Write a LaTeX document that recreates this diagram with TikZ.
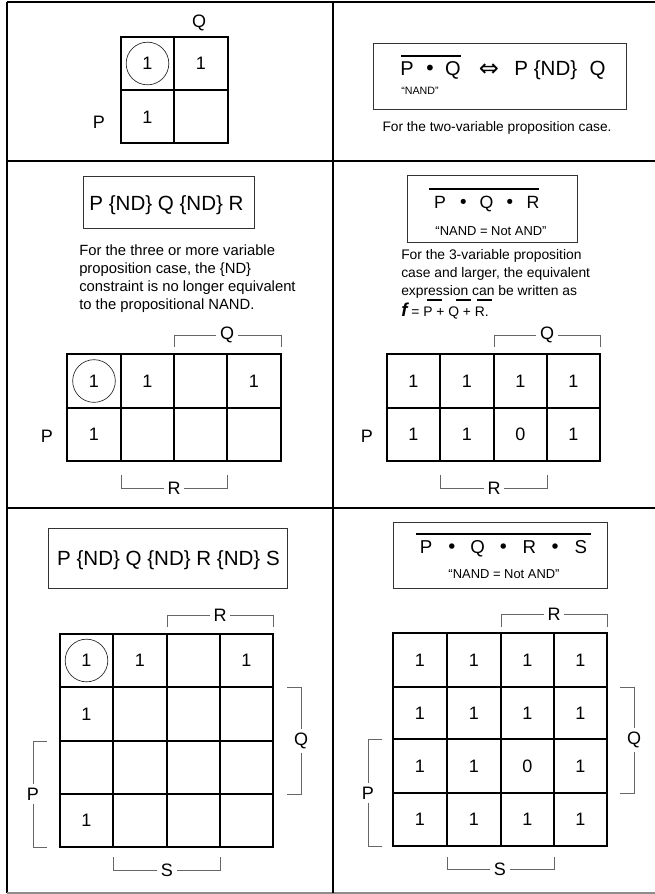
\documentclass[tikz,border=0pt]{standalone}
\usepackage{fontspec}
\setmainfont{Liberation Sans}
\newfontfamily\symfont{DejaVu Sans}
\newcommand\kfont{\fontsize{13.5}{16}\selectfont}
\newcommand\eqfont{\fontsize{15.4}{18}\selectfont}
\newcommand\bx[2]{\makebox[#1][c]{#2}}
\newcommand\bul{{\symfont •}}
\begin{document}
\begin{tikzpicture}[x=0.75pt,y=-0.75pt,
  frame/.style={line width=1.1pt, black},
  kgrid/.style={line width=1pt, black},
  brk/.style={line width=0.6pt, black!60},
  boxst/.style={draw=black!80, line width=0.6pt, inner sep=0pt},
  num/.style={font=\kfont, inner sep=0pt},
  lab/.style={font=\kfont, inner sep=2.5pt},
  ring/.style={circle, draw=black!85, line width=0.5pt, minimum size=32pt, inner sep=0pt, font=\kfont},
  bar/.style={line width=1.5pt},
  eq/.style={font=\eqfont, inner sep=0pt},
  txt/.style={inner sep=0pt}
]
\useasboundingbox (0,0) rectangle (655,894);

% ---- frame ----
\draw[frame] (7,2) -- (655,2);
\draw[line width=1.4pt] (7,2) -- (7,893);
\draw[line width=0.8pt, black!45] (7,893) -- (655,893);
\draw[frame] (333,2) -- (333,893);
\draw[frame] (7,161) -- (655,161);
\draw[frame] (7,508) -- (655,508);

% ---- top-left 2x2 map ----
\draw[kgrid] (121,37) rectangle (228,143);
\draw[kgrid] (174,37) -- (174,143);
\draw[kgrid] (121,90) -- (228,90);
\node[ring] (a11) at (147.5,63.5) {1};
\node[num] (a12) at (201,63.5) {1};
\node[num] (a21) at (147.5,117) {1};
\node[lab] (aq) at (199,23) {Q};
\node[lab] (ap) at (99,122) {P};

% ---- top-right ----
\node[boxst, minimum width=189.75pt, minimum height=49.5pt] (tb) at (499.5,76) {};
\node[txt, font=\fontsize{15}{18}\selectfont] (pq) at (430,70) {\bx{17.25pt}{P}\bx{17.25pt}{\bul}\bx{17.25pt}{Q}};
\draw[bar] (401,56) -- (461,56);
\node[txt, font=\symfont\fontsize{18}{20}\selectfont] (iff) at (489,70) {⇔};
\node[eq] (pndq) at (560,70) {P \{ND\}\hspace{5pt} Q};
\node[txt, font=\fontsize{8}{10}\selectfont] (nand1) at (420,91) {“NAND”};
\node[txt, font=\fontsize{10.3}{12}\selectfont] (two) at (497,128) {For the two-variable proposition case.};

% ---- middle-left ----
\node[boxst, minimum width=128.25pt, minimum height=39pt] (mlb) at (168.5,202) {};
\node[eq] (mleq) at (166.5,205) {P \{ND\} Q \{ND\} R};
\node[txt, anchor=north west, align=left, font=\fontsize{11.1}{13.7}\selectfont] (mltxt) at (79,244)
  {For the three or more variable\\proposition case, the \{ND\}\\constraint is no longer equivalent\\to the propositional NAND.};

\draw[kgrid] (67,354) rectangle (281,461);
\draw[kgrid] (121,354) -- (121,461);
\draw[kgrid] (174,354) -- (174,461);
\draw[kgrid] (227,354) -- (227,461);
\draw[kgrid] (67,408) -- (281,408);
\node[ring] (b11) at (94,381) {1};
\node[num] (b12) at (147.5,381) {1};
\node[num] (b14) at (254,381) {1};
\node[num] (b21) at (94,434.5) {1};
\node[lab] (bq) at (227,335) {Q};
\draw[brk] (174,347) |- (bq.west);
\draw[brk] (281,347) |- (bq.east);
\node[lab] (bp) at (47,436) {P};
\node[lab] (br) at (174,488) {R};
\draw[brk] (121,475) |- (br.west);
\draw[brk] (227,475) |- (br.east);

% ---- middle-right ----
\node[boxst, minimum width=127.5pt, minimum height=50.25pt] (mrb) at (492,208.5) {};
\node[txt, font=\fontsize{13.3}{16}\selectfont] (pqr) at (486.5,204) {\bx{17.44pt}{P}\bx{17.44pt}{\bul}\bx{17.44pt}{Q}\bx{17.44pt}{\bul}\bx{17.44pt}{R}};
\draw[bar] (429,189) -- (539,189);
\node[txt, font=\fontsize{9.7}{12}\selectfont] (nand2) at (491,231) {“NAND = Not AND”};
\node[txt, anchor=north west, align=left, font=\fontsize{10.4}{13.7}\selectfont] (mrtxt) at (401,249)
  {For the 3-variable proposition\\case and larger, the equivalent\\expression can be written as};
\node[txt, anchor=base west] (fline) at (401,316)
  {{\fontsize{14}{16}\selectfont\bfseries\itshape f}{\fontsize{10.4}{12}\selectfont\ = P + Q + R.}};
\draw[bar] (427,300) -- (442,300);
\draw[bar] (456,300) -- (471,300);
\draw[bar] (477,300) -- (492,300);

\draw[kgrid] (387,354) rectangle (600,461);
\draw[kgrid] (440,354) -- (440,461);
\draw[kgrid] (494,354) -- (494,461);
\draw[kgrid] (547,354) -- (547,461);
\draw[kgrid] (387,408) -- (600,408);
\node[num] (c11) at (413.5,381) {1};
\node[num] (c12) at (467,381) {1};
\node[num] (c13) at (520.5,381) {1};
\node[num] (c14) at (573.5,381) {1};
\node[num] (c21) at (413.5,434.5) {1};
\node[num] (c22) at (467,434.5) {1};
\node[num] (c23) at (520.5,434.5) {0};
\node[num] (c24) at (573.5,434.5) {1};
\node[lab] (cq) at (547,335) {Q};
\draw[brk] (494,347) |- (cq.west);
\draw[brk] (600,347) |- (cq.east);
\node[lab] (cp) at (367,436) {P};
\node[lab] (cr) at (494,488) {R};
\draw[brk] (440,475) |- (cr.west);
\draw[brk] (547,475) |- (cr.east);

% ---- bottom-left ----
\node[boxst, minimum width=179.25pt, minimum height=45pt] (blb) at (167.5,558) {};
\node[eq] (bleq) at (168.5,560) {P \{ND\} Q \{ND\} R \{ND\} S};

\draw[kgrid] (60,634) rectangle (273,847);
\draw[kgrid] (113,634) -- (113,847);
\draw[kgrid] (167,634) -- (167,847);
\draw[kgrid] (220,634) -- (220,847);
\draw[kgrid] (60,687) -- (273,687);
\draw[kgrid] (60,741) -- (273,741);
\draw[kgrid] (60,794) -- (273,794);
\node[ring] (d11) at (86.5,660.5) {1};
\node[num] (d12) at (140,660.5) {1};
\node[num] (d14) at (246.5,660.5) {1};
\node[num] (d21) at (86.5,714) {1};
\node[num] (d41) at (86.5,820.5) {1};
\node[lab] (dr) at (220,615) {R};
\draw[brk] (167,627) |- (dr.west);
\draw[brk] (273,627) |- (dr.east);
\node[lab] (dq) at (301,741) {Q};
\draw[brk] (287,687) -| (dq.north);
\draw[brk] (287,794) -| (dq.south);
\node[lab] (dp) at (33,794) {P};
\draw[brk] (47,741) -| (dp.north);
\draw[brk] (47,847) -| (dp.south);
\node[lab] (ds) at (167,870) {S};
\draw[brk] (113,857) |- (ds.west);
\draw[brk] (220,857) |- (ds.east);

% ---- bottom-right ----
\node[boxst, minimum width=160.5pt, minimum height=49.5pt] (brb) at (500,555) {};
\node[txt, font=\fontsize{14}{16}\selectfont] (pqrs) at (503.5,549) {\bx{19.35pt}{P}\bx{19.35pt}{\bul}\bx{19.35pt}{Q}\bx{19.35pt}{\bul}\bx{19.35pt}{R}\bx{19.35pt}{\bul}\bx{19.35pt}{S}};
\draw[bar] (416,534) -- (591,534);
\node[txt, font=\fontsize{9.7}{12}\selectfont] (nand3) at (504,574) {“NAND = Not AND”};

\draw[kgrid] (393,633) rectangle (607,846);
\draw[kgrid] (447,633) -- (447,846);
\draw[kgrid] (501,633) -- (501,846);
\draw[kgrid] (554,633) -- (554,846);
\draw[kgrid] (393,687) -- (607,687);
\draw[kgrid] (393,739) -- (607,739);
\draw[kgrid] (393,793) -- (607,793);
\foreach \r/\yy in {1/660,2/713,3/766,4/819.5}{
  \foreach \c/\xx in {1/420,2/474,3/527.5,4/580.5}{
    \pgfmathtruncatemacro\isz{(\r==3 && \c==3) ? 0 : 1}
    \node[num] (e\r\c) at (\xx,\yy) {\isz};
  }
}
\node[lab] (er) at (554,614) {R};
\draw[brk] (501,627) |- (er.west);
\draw[brk] (607,627) |- (er.east);
\node[lab] (eq4) at (634,740) {Q};
\draw[brk] (620,687) -| (eq4.north);
\draw[brk] (620,793) -| (eq4.south);
\node[lab] (ep) at (368,793) {P};
\draw[brk] (382,739) -| (ep.north);
\draw[brk] (382,846) -| (ep.south);
\node[lab] (es) at (500,869) {S};
\draw[brk] (447,857) |- (es.west);
\draw[brk] (554,857) |- (es.east);
\end{tikzpicture}
\end{document}
